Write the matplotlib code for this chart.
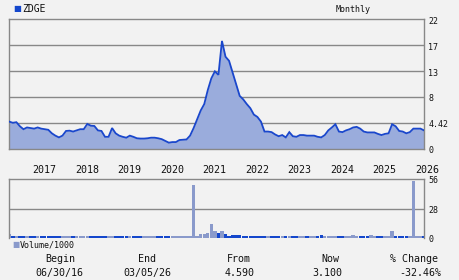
import matplotlib
matplotlib.use("Agg")
import matplotlib.pyplot as plt
import matplotlib.transforms as mtransforms

# ---- data ----
ticker = "ZDGE"
price = [4.59, 4.4, 4.5, 3.8, 3.3, 3.6, 3.5, 3.4, 3.6, 3.4,
         3.3, 3.2, 2.6, 2.2, 1.9, 2.2, 3.0, 3.05, 2.9, 3.1,
         3.3, 3.3, 4.2, 3.9, 3.85, 3.1, 3.0, 2.0, 2.0, 3.5,
         2.6, 2.2, 2.0, 1.85, 2.2, 2.0, 1.75, 1.7, 1.7, 1.75,
         1.85, 1.85, 1.75, 1.6, 1.3, 1.0, 1.1, 1.1, 1.45, 1.5,
         1.55, 2.2, 3.5, 5.0, 6.5, 7.6, 10.0, 12.0, 13.2, 12.6,
         18.4, 15.7, 15.0, 13.0, 11.0, 9.0, 8.4, 7.6, 6.9, 5.8,
         5.4, 4.6, 2.9, 2.9, 2.8, 2.4, 2.1, 2.3, 1.9, 2.8,
         2.1, 2.0, 2.3, 2.3, 2.2, 2.2, 2.2, 2.0, 1.9, 2.3,
         3.1, 3.6, 4.15, 2.9, 2.8, 3.1, 3.3, 3.6, 3.7, 3.4,
         2.9, 2.75, 2.75, 2.75, 2.5, 2.3, 2.5, 2.6, 4.15, 3.8,
         3.0, 2.9, 2.6, 2.8, 3.4, 3.4, 3.4, 3.1]
volume = [4.0, 2.5, 2.0, 2.5, 2.0, 2.0, 2.5, 2.0, 2.0, 2.5,
          2.0, 2.5, 2.5, 2.0, 2.5, 2.0, 2.0, 2.5, 2.0, 2.5,
          2.0, 2.5, 2.0, 2.5, 2.0, 2.5, 2.0, 2.5, 2.0, 2.5,
          2.0, 2.5, 2.0, 2.5, 2.0, 2.5, 2.0, 2.5, 2.0, 2.5,
          2.0, 2.5, 2.0, 2.5, 2.0, 2.5, 2.0, 2.5, 2.0, 2.5,
          2.0, 2.5, 51.0, 2.5, 4.0, 4.0, 5.0, 14.0, 7.0, 5.0,
          7.0, 4.0, 2.5, 3.0, 3.0, 3.0, 2.5, 2.0, 2.5, 2.5,
          2.0, 2.5, 2.0, 2.5, 2.0, 2.5, 2.0, 2.5, 2.0, 2.5,
          2.0, 2.5, 2.0, 2.5, 2.0, 2.5, 2.0, 2.5, 3.0, 2.5,
          2.0, 2.5, 2.0, 2.5, 2.0, 2.5, 2.0, 3.0, 2.5, 2.0,
          2.5, 2.0, 3.5, 2.5, 2.0, 2.5, 2.0, 2.5, 7.0, 2.5,
          2.0, 2.5, 2.0, 2.5, 54.0, 2.5, 2.0, 2.5]
years = ["2017", "2018", "2019", "2020", "2021", "2022", "2023", "2024", "2025", "2026"]
price_ticks = ["22", "17", "13", "8", "4.42", "0"]
price_tick_vals = [22.1, 17.68, 13.26, 8.84, 4.42, 0]
vol_ticks = ["56", "28", "0"]
vol_tick_vals = [56, 28, 0]
summary_heads = ["Begin", "End", "From", "Now", "% Change"]
summary_vals = ["06/30/16", "03/05/26", "4.590", "3.100", "-32.46%"]

BG = "#f2f2f2"
GRID = "#888888"
LINE = "#1a47cc"
FILL = "#9aacdc"
VOL_UP = "#8a9acb"
VOL_DN = "#1447cc"
MONO = "DejaVu Sans Mono"

W, H = 460, 280
fig = plt.figure(figsize=(W / 100, H / 100), dpi=100, facecolor=BG)

def rect(x0, y0, x1, y1):
    return [x0 / W, 1 - y1 / H, (x1 - x0) / W, (y1 - y0) / H]

n = len(price)
xs = list(range(n))

# ---- price panel ----
ax = fig.add_axes(rect(9.3, 19.3, 424, 148.5))
ax.set_facecolor(BG)
ax.fill_between(xs, price, 0, color=FILL, lw=0, zorder=2)
ax.plot(xs, price, color=LINE, lw=1.3, zorder=3, solid_joinstyle="miter")
ax.set_xlim(0, n - 1)
ax.set_ylim(0, 22.1)
for v in price_tick_vals[1:-1]:
    ax.axhline(v, color=GRID, lw=1.0, zorder=1)
for s in ax.spines.values():
    s.set_color(GRID)
    s.set_linewidth(1.0)
ax.set_xticks([])
ax.set_yticks([])
tr = mtransforms.blended_transform_factory(ax.transAxes, ax.transData)
for lab, v in zip(price_ticks, price_tick_vals):
    ax.text(1.01, v - 0.35, lab, transform=tr, ha="left", va="center",
            fontsize=6, family=MONO, color="#111111")
trx = mtransforms.blended_transform_factory(ax.transData, ax.transAxes)
for i, y in enumerate(years):
    xm = 7 + 12 * i + 2.9
    ax.text(xm, -0.165, y, transform=trx, ha="center", va="center",
            fontsize=7.2, family=MONO, color="#111111", clip_on=False)

# ---- volume panel ----
av = fig.add_axes(rect(9.3, 179.3, 424, 238.3))
av.set_facecolor(BG)
cols = [VOL_UP] + [VOL_UP if price[i] >= price[i - 1] else VOL_DN for i in range(1, n)]
av.bar(xs, volume, width=0.95, color=cols, lw=0, zorder=2)
av.set_xlim(0, n - 1)
av.set_ylim(0, 56)
av.axhline(28, color=GRID, lw=1.0, zorder=1)
for s in av.spines.values():
    s.set_color(GRID)
    s.set_linewidth(1.0)
av.spines["bottom"].set_visible(False)
av.set_xticks([])
av.set_yticks([])
trv = mtransforms.blended_transform_factory(av.transAxes, av.transData)
for lab, v in zip(vol_ticks, vol_tick_vals):
    av.text(1.01, v - 1.5, lab, transform=trv, ha="left", va="center",
            fontsize=6, family=MONO, color="#111111")

# ---- header / legends ----
fig.text(13 / W, 1 - 9 / H, "\u25a0", ha="left", va="center", fontsize=6, color="#1447cc")
fig.text(22.5 / W, 1 - 9 / H, ticker, ha="left", va="center", fontsize=7,
         family=MONO, color="#111111")
fig.text(353 / W, 1 - 9 / H, "Monthly", ha="center", va="center", fontsize=6,
         family=MONO, color="#111111")
fig.text(12 / W, 1 - 245 / H, "\u25a0", ha="left", va="center", fontsize=5.5, color=VOL_UP)
fig.text(20 / W, 1 - 245 / H, "Volume/1000", ha="left", va="center", fontsize=6,
         family=MONO, color="#111111")

# ---- summary ----
head_x = [60.5, 147, 239, 330, 414]
val_x = [59.5, 147.5, 240, 327, 420]
for hx, h in zip(head_x, summary_heads):
    fig.text(hx / W, 1 - 259 / H, h, ha="center", va="center", fontsize=7.2,
             family=MONO, color="#111111")
for vx, v in zip(val_x, summary_vals):
    fig.text(vx / W, 1 - 273 / H, v, ha="center", va="center", fontsize=7.2,
             family=MONO, color="#111111")

fig.savefig("out.png", dpi=100, facecolor=BG)
